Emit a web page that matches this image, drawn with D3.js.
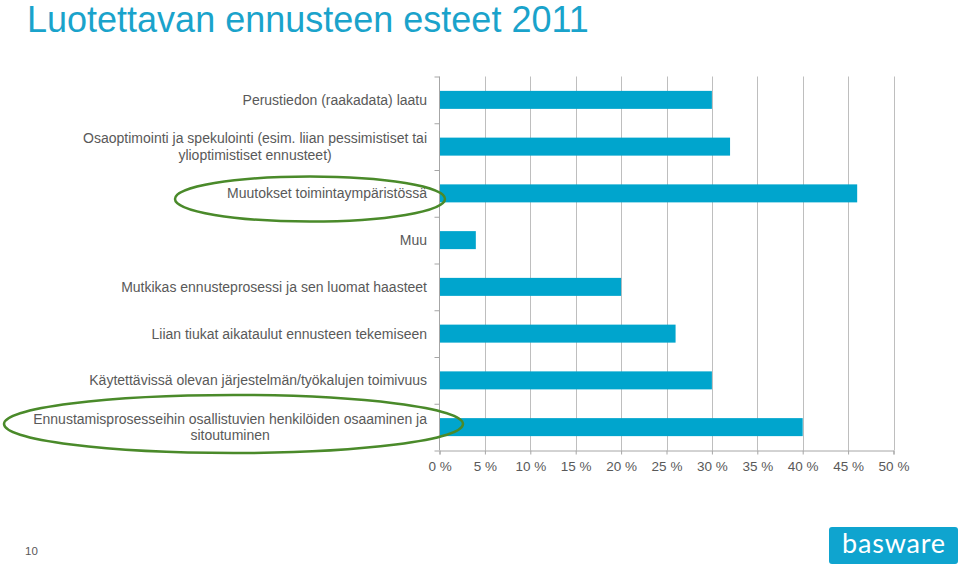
<!DOCTYPE html>
<html><head><meta charset="utf-8">
<script src="https://cdn.jsdelivr.net/npm/d3@7"></script>
<style>body{margin:0;background:#fff;} svg{display:block;font-family:"Liberation Sans",Arial,sans-serif;}</style>
</head><body>
<script>
const title = "Luotettavan ennusteen esteet 2011";
const categories = [
  "Perustiedon (raakadata) laatu",
  "Osaoptimointi ja spekulointi (esim. liian pessimistiset tai\nylioptimistiset ennusteet)",
  "Muutokset toimintaympäristössä",
  "Muu",
  "Mutkikas ennusteprosessi ja sen luomat haasteet",
  "Liian tiukat aikataulut ennusteen tekemiseen",
  "Käytettävissä olevan järjestelmän/työkalujen toimivuus",
  "Ennustamisprosesseihin osallistuvien henkilöiden osaaminen ja\nsitoutuminen"
];
const values = [30, 32, 46, 4, 20, 26, 30, 40];
const xTicks = [0, 5, 10, 15, 20, 25, 30, 35, 40, 45, 50];
const pageNumber = "10";
const logoText = "basware";

const W = 960, H = 569;
const svg = d3.select("body").append("svg").attr("width", W).attr("height", H);

svg.append("text").attr("x", 27).attr("y", 32).attr("fill", "#1AA3CB")
  .style("font-size", "36px").text(title);

const x = d3.scaleLinear().domain([0, 50]).range([439.5, 893.5]);
const y = d3.scaleBand().domain(d3.range(categories.length)).range([76.5, 450.5]).paddingInner(0.615).paddingOuter(0.3075);

const g = svg.append("g");
g.selectAll("line.grid").data(xTicks.slice(1)).join("line")
  .attr("x1", d => Math.round(x(d)) + 0.5).attr("x2", d => Math.round(x(d)) + 0.5)
  .attr("y1", 76.5).attr("y2", 450.5).attr("stroke", "#BEBEBE").attr("stroke-width", 1);

g.selectAll("rect.bar").data(values).join("rect")
  .attr("x", x(0)).attr("y", (d, i) => y(i))
  .attr("width", d => x(d) - x(0)).attr("height", y.bandwidth())
  .attr("fill", "#00A5CD");

const yAxis = d3.axisLeft(d3.scaleLinear().domain([0, categories.length]).range([76.5, 450.5]))
  .ticks(categories.length).tickSize(5).tickFormat("");
const ya = svg.append("g").attr("transform", `translate(${x(0)},0)`).call(yAxis);
ya.select(".domain").attr("stroke", "#A6A6A6").attr("d", "M0,76.5V450.5");
ya.selectAll(".tick line").attr("stroke", "#A6A6A6");

const xAxis = d3.axisBottom(x).tickValues(xTicks).tickSize(4).tickFormat(d => d + " %");
const xa = svg.append("g").attr("transform", "translate(0,450.5)").call(xAxis);
xa.select(".domain").attr("stroke", "#A6A6A6");
xa.selectAll(".tick line").attr("stroke", "#A6A6A6");
xa.selectAll(".tick text").attr("fill", "#595959").style("font-size", "13.5px")
  .style("font-family", '"Liberation Sans",Arial,sans-serif').attr("dy", "0.71em").attr("y", 11);

const labelG = svg.append("g");
categories.forEach((c, i) => {
  const lines = c.split("\n");
  const cy = y(i) + y.bandwidth() / 2;
  const t = labelG.append("text").attr("fill", "#595959").style("font-size", "14px");
  const lh = 16.5;
  const y0 = cy - (lines.length - 1) * lh / 2;
  lines.forEach((ln, k) => {
    t.append("tspan").attr("y", y0 + k * lh).attr("dy", "0.35em").text(ln);
  });
  const widths = t.selectAll("tspan").nodes().map(n => n.getComputedTextLength());
  const maxW = d3.max(widths);
  const cx = 427 - maxW / 2;
  t.selectAll("tspan").attr("x", cx).attr("text-anchor", "middle");
});

const ellipses = [
  {cx: 310, cy: 199, rx: 135, ry: 22.5},
  {cx: 233.5, cy: 424, rx: 229.5, ry: 29}
];
svg.selectAll("ellipse.hl").data(ellipses).join("ellipse")
  .attr("cx", d => d.cx).attr("cy", d => d.cy).attr("rx", d => d.rx).attr("ry", d => d.ry)
  .attr("fill", "none").attr("stroke", "#4A8A2A").attr("stroke-width", 2.5);

svg.append("text").attr("x", 25).attr("y", 555).attr("fill", "#595959")
  .style("font-size", "11.5px").text(pageNumber);

svg.append("rect").attr("x", 829).attr("y", 527).attr("width", 129).attr("height", 37)
  .attr("rx", 3).attr("fill", "#0FA4CF");
svg.append("text").attr("x", 894).attr("y", 553).attr("text-anchor", "middle")
  .attr("fill", "#fff").style("font-size", "27px").style("font-weight", "400")
  .style("letter-spacing", "0.8px").style("font-family", "Lato, 'Open Sans', sans-serif")
  .text(logoText);
</script>
</body></html>
